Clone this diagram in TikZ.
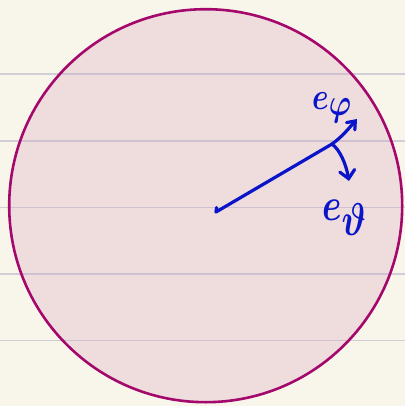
\documentclass[tikz,border=0pt]{standalone}
\usepackage{graphicx}
\usetikzlibrary{arrows.meta}
\definecolor{paper}{HTML}{F8F6EA}
\definecolor{rulecol}{HTML}{B8B0C8}
\definecolor{disk}{HTML}{EFDCDD}
\definecolor{rim}{HTML}{A5086C}
\definecolor{ink}{HTML}{0A14C8}
\begin{document}
\begin{tikzpicture}[x=1pt,y=-1pt,
  ruleline/.style={rulecol,opacity=0.6,line width=1.3pt},
  pen/.style={ink,line width=3.2pt,line cap=round,line join=round},
  barb/.style={-{Straight Barb[length=7pt,width=11pt,line cap=round]}},
  lbl/.style={ink,inner sep=0pt,font=\boldmath}]
\useasboundingbox (0,0) rectangle (405,406);
\fill[paper] (0,0) rectangle (405,406);
\fill[disk] (205.7,205.7) circle (196.5pt);
\foreach \yy in {74,141,207.5,274,340.5}
  \draw[ruleline] (0,\yy) -- (405,\yy);
\draw[rim,line width=2.6pt] (205.7,205.7) circle (196.5pt);
% vectors
\coordinate (O) at (216,212);
\coordinate (Oh) at (216.5,207.5);
\coordinate (P) at (332,144);
\coordinate (Tphi) at (357,119);
\coordinate (Tth) at (349,181);
\draw[pen] (Oh) -- (O) -- (P);
\draw[pen,barb] (P) .. controls (342,137) and (350,127) .. (Tphi);
\draw[pen,-{Straight Barb[length=8pt,width=15pt,line cap=round]}] (P) .. controls (340,150) and (346,164) .. (Tth);
\node[lbl,anchor=base west] (ephi) at (312,110) {\scalebox{3}[3.8]{$e_{\textstyle\varphi}$}};
\node[lbl,anchor=base west] (eth) at (322,220) {\scalebox{3.5}[4.6]{$e_{\textstyle\vartheta}$}};
\end{tikzpicture}
\end{document}
